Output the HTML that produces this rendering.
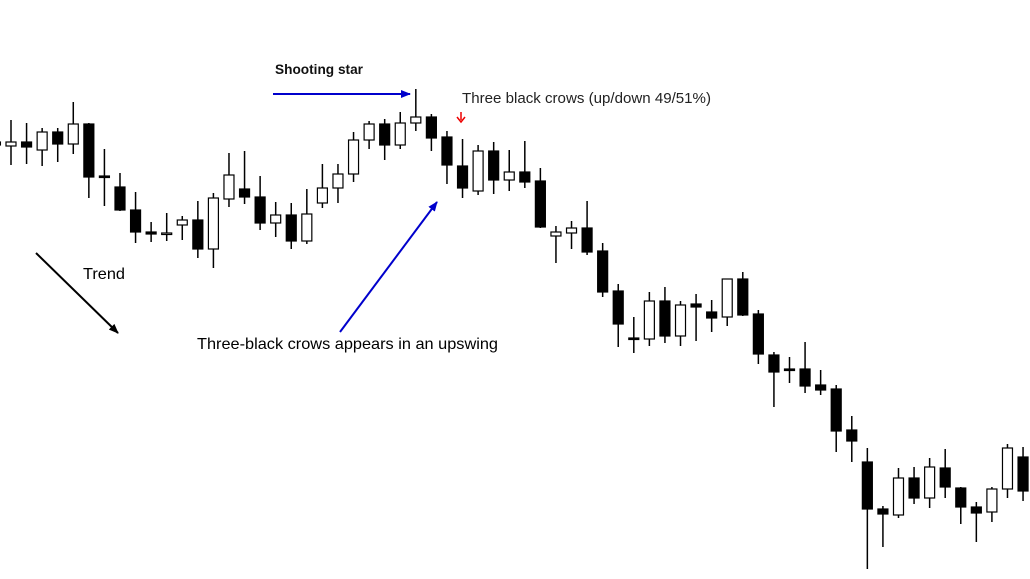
<!DOCTYPE html>
<html><head><meta charset="utf-8"><style>
html,body{margin:0;padding:0;background:#fff;}
svg{display:block;}
text{font-family:"Liberation Sans",sans-serif;}
</style></head><body>
<svg id="chart" width="1030" height="579" viewBox="0 0 1030 579">
<defs>
<marker id="ab" markerWidth="10" markerHeight="8" refX="9" refY="4" orient="auto" markerUnits="userSpaceOnUse"><path d="M0,0 L10,4 L0,8 z" fill="#0000cc"/></marker>
<marker id="ak" markerWidth="10" markerHeight="8" refX="9" refY="4" orient="auto" markerUnits="userSpaceOnUse"><path d="M0,0 L10,4 L0,8 z" fill="#000"/></marker>
</defs>
<g id="candles"></g>
<g>
<text x="275" y="74" font-size="14" font-weight="bold" fill="#111" textLength="88" lengthAdjust="spacingAndGlyphs">Shooting star</text>
<line x1="273" y1="94" x2="410" y2="94" stroke="#0000cc" stroke-width="2" marker-end="url(#ab)"/>
<text x="462" y="103" font-size="15" fill="#222" textLength="249" lengthAdjust="spacingAndGlyphs">Three black crows (up/down 49/51%)</text>
<g><line x1="461" y1="112" x2="461" y2="120" stroke="#e00" stroke-width="1.5"/><path d="M457,117 L461,122 L465,117" fill="none" stroke="#e00" stroke-width="1.5"/></g>
<line x1="340" y1="332" x2="437" y2="202" stroke="#0000cc" stroke-width="2" marker-end="url(#ab)"/>
<text x="197" y="349" font-size="16" fill="#000" textLength="301" lengthAdjust="spacingAndGlyphs">Three-black crows appears in an upswing</text>
<text x="83" y="279" font-size="16" fill="#000" textLength="42" lengthAdjust="spacingAndGlyphs">Trend</text>
<line x1="36" y1="253" x2="118" y2="333" stroke="#000" stroke-width="2" marker-end="url(#ak)"/>
</g>
</svg>
<script>
const opens=[458,454,458,450,468,456,476,424,413,390,368,366,375,380,351,401,411,403,377,385,359,397,412,426,460,476,455,477,483,463,434,409,449,420,428,419,364,367,372,349,309,262,261,299,264,296,288,283,321,286,245,231,231,215,211,170,138,91,85,122,102,132,112,93,88,111,143];
const highs=[470,480,477,472,472,498,477,451,427,408,378,387,384,399,407,447,449,424,398,397,411,436,436,468,479,481,488,511,486,469,461,455,458,450,459,432,374,379,399,357,316,283,308,313,299,306,300,321,328,290,248,243,258,230,215,184,152,94,132,133,142,151,113,98,113,156,153];
const lows=[440,435,436,434,438,446,402,394,389,357,358,359,360,342,332,393,396,370,363,351,356,392,397,418,451,440,451,469,449,416,402,405,406,409,412,372,337,351,345,303,253,247,254,257,254,259,268,274,284,236,193,217,207,205,148,138,31,53,82,96,92,102,76,58,78,102,99];
const closes=[455,458,453,468,456,476,423,423,390,368,366,367,380,351,402,425,403,377,385,359,386,412,426,460,476,455,477,483,462,435,412,449,420,428,418,373,368,372,348,308,276,261,299,264,295,293,282,321,285,246,228,230,214,210,169,159,91,86,122,102,133,113,93,87,111,152,109];
function xScale(i){return 11+(i-1)*15.57;}
function yScale(p){return 600-p;}
const g=document.getElementById('candles');
const NS='http://www.w3.org/2000/svg';
for(let i=0;i<opens.length;i++){
  const x=xScale(i),o=opens[i],c=closes[i];
  const w=document.createElementNS(NS,'line');
  
  
  w.setAttribute('x1',x);w.setAttribute('x2',x);
  w.setAttribute('y1',yScale(highs[i]));w.setAttribute('y2',yScale(lows[i]));
  w.setAttribute('stroke','#000');w.setAttribute('stroke-width','1.5');
  g.appendChild(w);
  const top=yScale(Math.max(o,c)),bot=yScale(Math.min(o,c));
  const r=document.createElementNS(NS,'rect');
  
  
  r.setAttribute('x',x-5);r.setAttribute('width',10);
  r.setAttribute('y',top);r.setAttribute('height',Math.max(1.5,bot-top));
  const bull=c>o;
  r.setAttribute('fill',bull?'#fff':'#000');
  r.setAttribute('stroke','#000');r.setAttribute('stroke-width','1.2');
  g.appendChild(r);
}
</script>
</body></html>
